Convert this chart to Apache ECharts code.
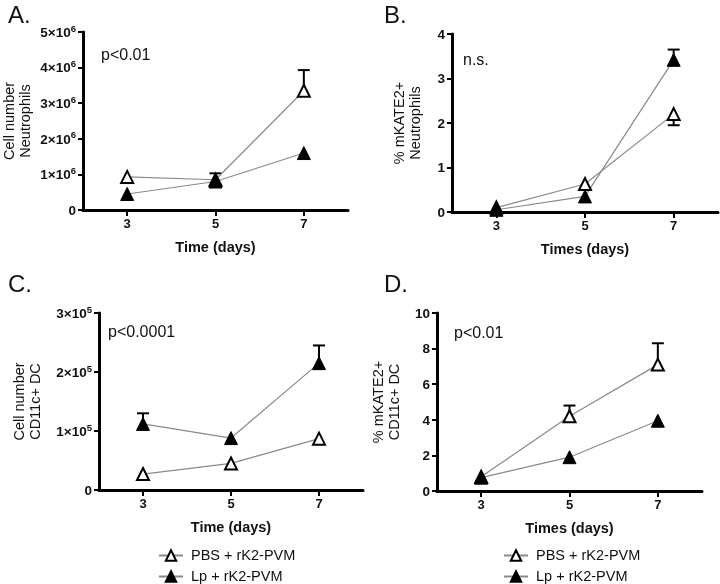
<!DOCTYPE html>
<html><head><meta charset="utf-8">
<script src="https://cdn.jsdelivr.net/npm/echarts@6/dist/echarts.min.js"></script>
<style>html,body{margin:0;padding:0;background:#fff}#c{width:720px;height:584px}</style>
</head><body><div id="c"></div>
<script>
// ---- data ----
const days = [3, 5, 7];
const xTicks = [3, 5, 7];
const seriesNames = ['PBS + rK2-PVM', 'Lp + rK2-PVM'];
// Panel A: Cell number Neutrophils
const aPbs = [930000, 850000, 3350000];
const aPbsErr = [null, 1030000, 3930000];
const aLp = [450000, 800000, 1600000];
const aLpErr = [null, null, null];
// Panel B: % mKATE2+ Neutrophils
const bPbs = [0.1, 0.63, 2.2];
const bPbsErr = [null, null, 1.95];
const bLp = [0.05, 0.35, 3.42];
const bLpErr = [null, null, 3.65];
// Panel C: Cell number CD11c+ DC
const cPbs = [27000, 45000, 87000];
const cPbsErr = [null, null, null];
const cLp = [112000, 88000, 215000];
const cLpErr = [130000, null, 245000];
// Panel D: % mKATE2+ CD11c+ DC
const dPbs = [0.8, 4.2, 7.1];
const dPbsErr = [null, 4.8, 8.3];
const dLp = [0.75, 1.9, 3.95];
const dLpErr = [null, null, null];

const panelLetters = ['A.', 'B.', 'C.', 'D.'];
const pTexts = ['p<0.01', 'n.s.', 'p<0.0001', 'p<0.01'];
const yNames = ['Cell number\nNeutrophils', '% mKATE2+\nNeutrophils', 'Cell number\nCD11c+ DC', '% mKATE2+\nCD11c+ DC'];
const xNames = ['Time (days)', 'Times (days)', 'Time (days)', 'Times (days)'];
const yMax = [5000000, 4, 300000, 10];
const yInterval = [1000000, 1, 100000, 2];
const yExp = [6, null, 5, null];

// ---- layout ----
const FONT = 'Liberation Sans, Arial, sans-serif';
const grids = [
  {left: 83, top: 32, width: 265, height: 178},
  {left: 452, top: 34, width: 266, height: 178},
  {left: 99, top: 313, width: 264, height: 177},
  {left: 437, top: 313, width: 265, height: 178}
];
const yNameGap = [49, 28, 55, 34];

function errRender(params, api) {
  const x = api.value(0), y = api.value(1), e = api.value(2);
  const p0 = api.coord([x, y]);
  const p1 = api.coord([x, e]);
  const w = 6;
  return {type: 'group', children: [
    {type: 'line', shape: {x1: p0[0], y1: p0[1], x2: p1[0], y2: p1[1]}, style: {stroke: '#000', lineWidth: 2}},
    {type: 'line', shape: {x1: p1[0] - w, y1: p1[1], x2: p1[0] + w, y2: p1[1]}, style: {stroke: '#000', lineWidth: 2}}
  ]};
}

const panels = [
  [aPbs, aPbsErr, aLp, aLpErr],
  [bPbs, bPbsErr, bLp, bLpErr],
  [cPbs, cPbsErr, cLp, cLpErr],
  [dPbs, dPbsErr, dLp, dLpErr]
];

const xAxes = [], yAxes = [], series = [];
grids.forEach((g, i) => {
  g.outerBoundsMode = 'none';
  g.containLabel = false;
  xAxes.push({
    type: 'value', gridIndex: i, min: 2, max: 8,
    name: xNames[i], nameLocation: 'middle', nameGap: 30,
    nameTextStyle: {fontFamily: FONT, fontSize: 14.5, fontWeight: 'bold', color: '#111'},
    axisLine: {show: true, lineStyle: {color: '#000', width: 3}},
    axisTick: {show: true, customValues: xTicks, length: 6, lineStyle: {color: '#000', width: 2}},
    axisLabel: {customValues: xTicks, fontFamily: FONT, fontSize: 13, fontWeight: 'bold', color: '#111', margin: 8},
    splitLine: {show: false}
  });
  const exp = yExp[i];
  yAxes.push({
    type: 'value', gridIndex: i, min: 0, max: yMax[i], interval: yInterval[i],
    name: yNames[i], nameLocation: 'middle', nameGap: yNameGap[i], nameRotate: 90,
    nameTextStyle: {fontFamily: FONT, fontSize: 14.5, color: '#111', lineHeight: 16},
    axisLine: {show: true, lineStyle: {color: '#000', width: 3}},
    axisTick: {show: true, length: 5, lineStyle: {color: '#000', width: 2}},
    axisLabel: {
      fontFamily: FONT, fontSize: 13.5, fontWeight: 'bold', color: '#111', margin: 7,
      formatter: function (v) {
        if (exp === null || v === 0) return '{b|' + v + '}';
        return '{b|' + Math.round(v / Math.pow(10, exp)) + '×10}{s|' + exp + '}';
      },
      rich: {
        b: {fontFamily: FONT, fontSize: 13.5, fontWeight: 'bold', color: '#111', lineHeight: 16, verticalAlign: 'bottom'},
        s: {fontFamily: FONT, fontSize: 9.5, fontWeight: 'bold', color: '#111', lineHeight: 16, verticalAlign: 'top', padding: [0, 0, 6, 0]}
      }
    },
    splitLine: {show: false}
  });
  const [pbs, pbsErr, lp, lpErr] = panels[i];
  const mk = (vals) => days.map((d, k) => [d, vals[k]]);
  const mkErr = (vals, errs) => days.map((d, k) => errs[k] == null ? null : [d, vals[k], errs[k]]).filter(Boolean);
  series.push({
    type: 'custom', name: 'err-pbs-' + i, xAxisIndex: i, yAxisIndex: i, z: 1,
    renderItem: errRender, encode: {x: 0, y: [1, 2]}, data: mkErr(pbs, pbsErr), silent: true
  });
  series.push({
    type: 'custom', name: 'err-lp-' + i, xAxisIndex: i, yAxisIndex: i, z: 1,
    renderItem: errRender, encode: {x: 0, y: [1, 2]}, data: mkErr(lp, lpErr), silent: true
  });
  series.push({
    type: 'line', name: seriesNames[0], xAxisIndex: i, yAxisIndex: i, z: 3,
    data: mk(pbs), symbol: 'triangle', symbolSize: 12,
    lineStyle: {color: '#8a8a8a', width: 1.2},
    itemStyle: {color: '#fff', borderColor: '#000', borderWidth: 2},
    emphasis: {disabled: true}, animation: false
  });
  series.push({
    type: 'line', name: seriesNames[1], xAxisIndex: i, yAxisIndex: i, z: 3,
    data: mk(lp), symbol: 'triangle', symbolSize: 13,
    lineStyle: {color: '#8a8a8a', width: 1.2},
    itemStyle: {color: '#000', borderColor: '#000', borderWidth: 1},
    emphasis: {disabled: true}, animation: false
  });
});

const letterPos = [[8, 4], [384, 4], [8, 273], [384, 273]];
const pPos = [[101, 48], [463, 53], [108, 325], [454, 326]];
const graphic = [];
panelLetters.forEach((t, i) => {
  graphic.push({type: 'text', left: letterPos[i][0], top: letterPos[i][1],
    style: {text: t, font: '24px ' + FONT, fill: '#111'}});
  graphic.push({type: 'text', left: pPos[i][0], top: pPos[i][1],
    style: {text: pTexts[i], font: '16px ' + FONT, fill: '#111'}});
});

// legends: one item each, stacked under panels C and D
const legendLefts = [158, 503];
const legendTops = [548, 569];
const legends = [];
legendLefts.forEach((lx) => {
  seriesNames.forEach((nm, k) => {
    legends.push({
      data: [nm], left: lx, top: legendTops[k], padding: 0,
      itemWidth: 24, itemHeight: 13, selectedMode: false,
      textStyle: {fontFamily: FONT, fontSize: 14.5, color: '#111', padding: [0, 0, 0, 3]}
    });
  });
});

const chart = echarts.init(document.getElementById('c'));
chart.setOption({
  backgroundColor: '#fff',
  animation: false,
  grid: grids,
  xAxis: xAxes,
  yAxis: yAxes,
  series: series,
  legend: legends,
  graphic: graphic
});
</script></body></html>
